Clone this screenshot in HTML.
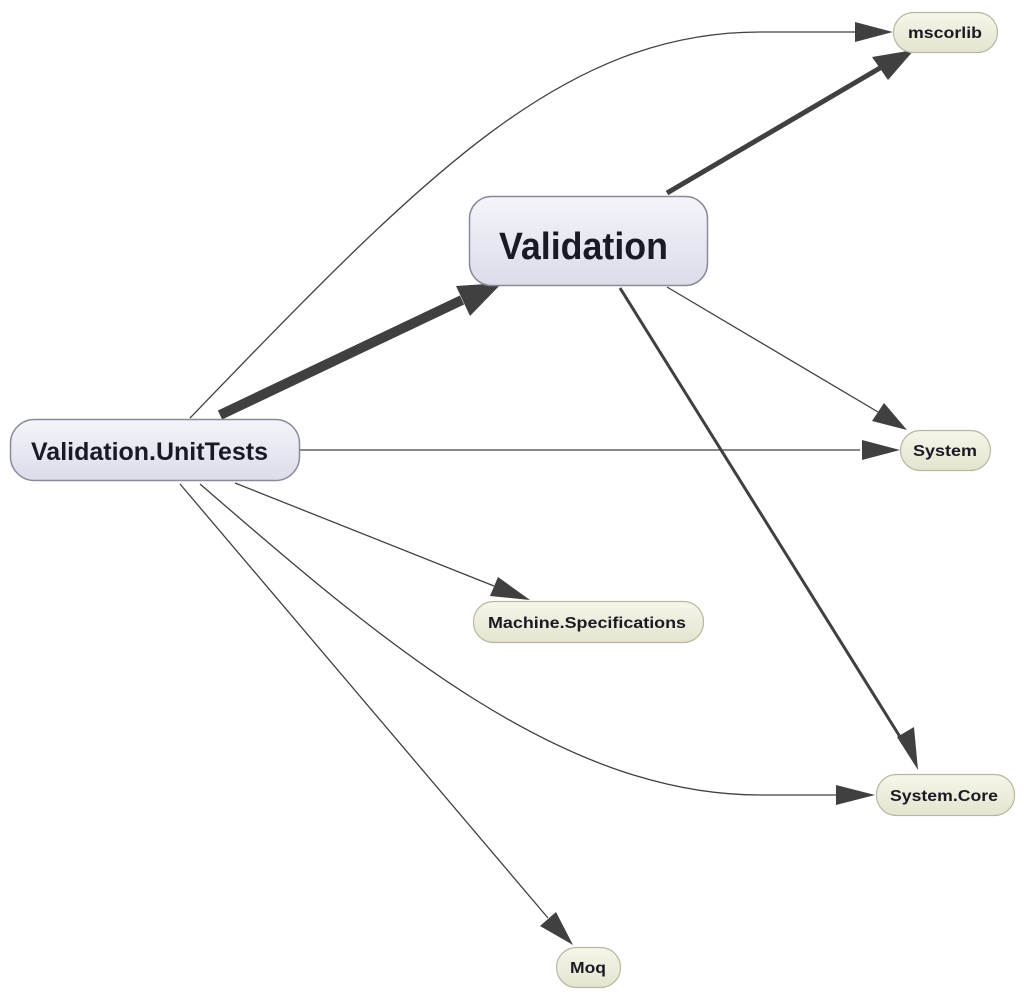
<!DOCTYPE html>
<html><head><style>
body{margin:0;background:#fff;}
svg{display:block;}
text{font-family:"Liberation Sans",Arial,sans-serif;font-weight:bold;fill:#1a1a24;}
</style></head><body>
<svg width="1024" height="997" viewBox="0 0 1024 997" xmlns="http://www.w3.org/2000/svg">
<defs>
<linearGradient id="gv" x1="0" y1="0" x2="0" y2="1">
<stop offset="0" stop-color="#f4f4fa"/><stop offset="1" stop-color="#dcdcea"/></linearGradient>
<linearGradient id="gy" x1="0" y1="0" x2="0" y2="1">
<stop offset="0" stop-color="#f6f6ea"/><stop offset="1" stop-color="#e4e4d0"/></linearGradient>
</defs>
<g stroke="#404040" fill="none" stroke-width="1.3">
<path d="M190,418 C420,180 560,32 760,32 L858,32"/>
<path d="M667,287 L878,412"/>
<path d="M300,450 L860,450"/>
<path d="M235,483 L494,586"/>
<path d="M200,484 C380,640 560,795 760,795 L838,795"/>
<path d="M180,484 L548,918"/>
<path d="M620,288 L902,740" stroke-width="3"/>
<path d="M667,193 L880,68" stroke-width="5"/>
<path d="M220,415 L462,300" stroke-width="10"/>
</g>
<g fill="#404040">
<polygon points="893,32 855,22 855,42"/>
<polygon points="907,430 872,421 884,403"/>
<polygon points="900,450 862,440 862,460"/>
<polygon points="530,600 490,596 498,577"/>
<polygon points="875,795 836,785 836,805"/>
<polygon points="573,945 540,926 556,912"/>
<polygon points="918,770 897,737 914,727"/>
<polygon points="914,50 872,57 888,80"/>
<polygon points="502,283 456,286 470,316"/>
</g>
<rect x="469.5" y="196.5" width="238" height="89" rx="22" fill="url(#gv)" stroke="#8a8a98" stroke-width="1.5"/>
<text x="499" y="259" font-size="38" textLength="169" lengthAdjust="spacingAndGlyphs">Validation</text>
<rect x="10.5" y="419.5" width="289" height="61" rx="24" fill="url(#gv)" stroke="#8a8a98" stroke-width="1.5"/>
<text x="31" y="460" font-size="25" textLength="237" lengthAdjust="spacingAndGlyphs">Validation.UnitTests</text>
<g stroke="#b8b8a0" stroke-width="1.2" fill="url(#gy)">
<rect x="893.5" y="12.5" width="104" height="40" rx="20"/>
<rect x="900.5" y="430.5" width="90" height="40" rx="20"/>
<rect x="473.5" y="601.5" width="230" height="41" rx="20"/>
<rect x="876.5" y="774.5" width="138" height="41" rx="20"/>
<rect x="556.5" y="947.5" width="64" height="40" rx="20"/>
</g>
<g font-size="16" lengthAdjust="spacingAndGlyphs">
<text x="908" y="38" textLength="74" lengthAdjust="spacingAndGlyphs">mscorlib</text>
<text x="913" y="456" textLength="64" lengthAdjust="spacingAndGlyphs">System</text>
<text x="488" y="628" textLength="198" lengthAdjust="spacingAndGlyphs">Machine.Specifications</text>
<text x="890" y="801" textLength="108" lengthAdjust="spacingAndGlyphs">System.Core</text>
<text x="570" y="973" textLength="36" lengthAdjust="spacingAndGlyphs">Moq</text>
</g>
</svg>
</body></html>
